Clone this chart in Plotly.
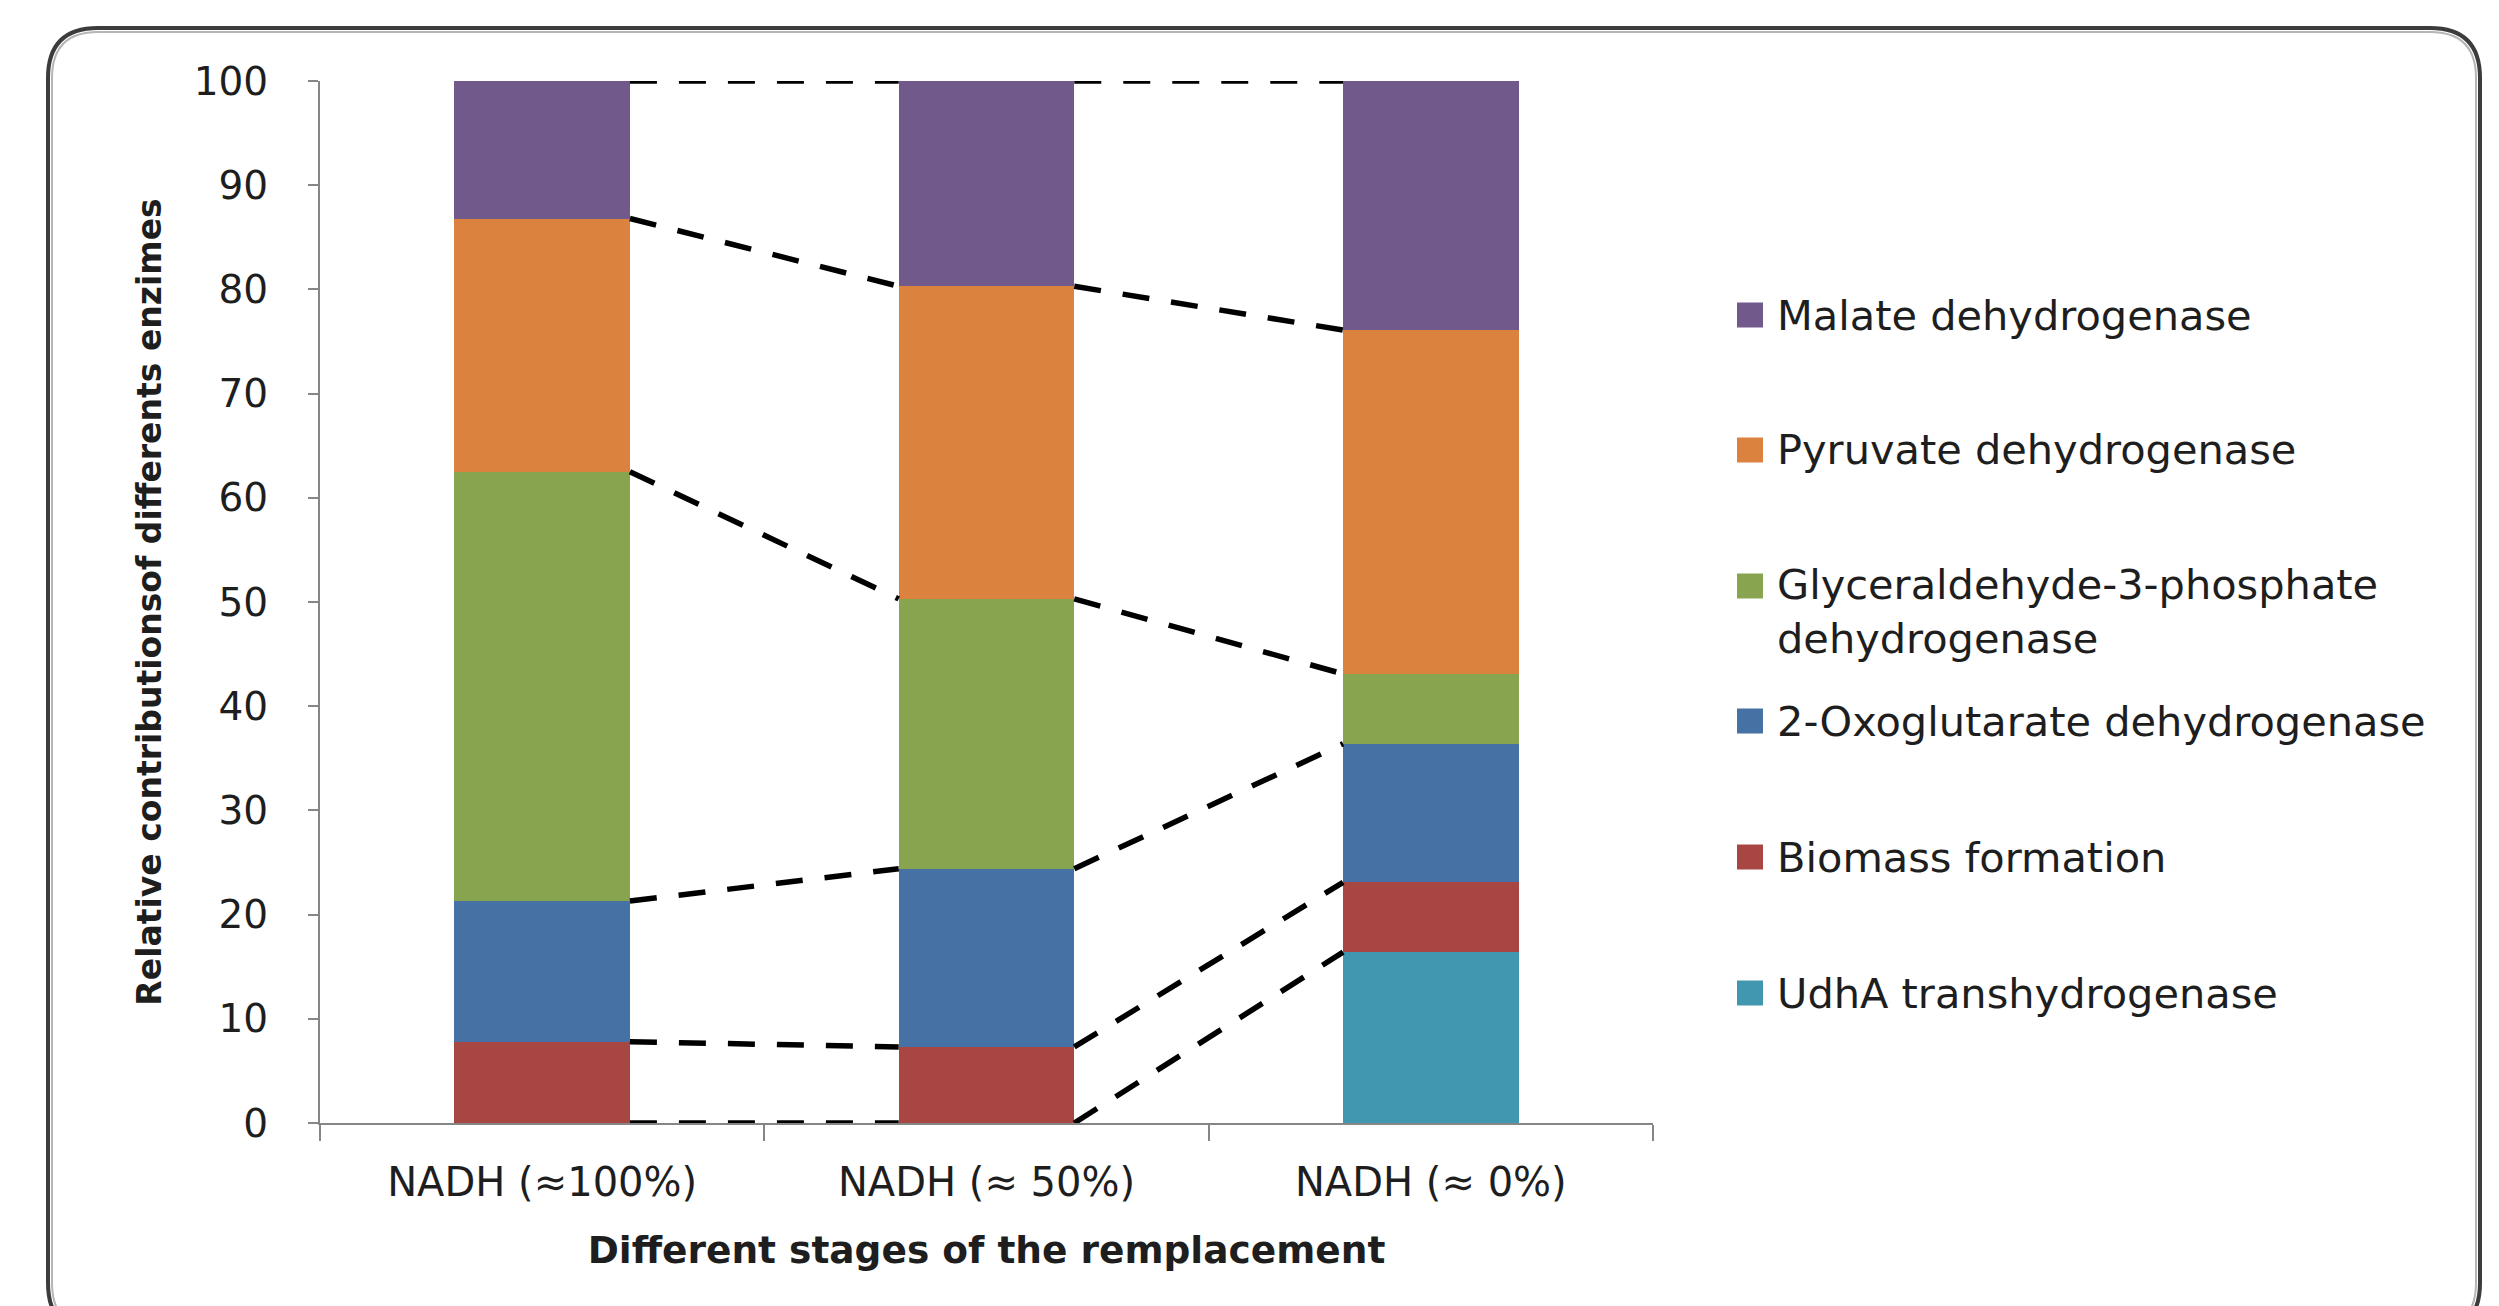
import plotly.graph_objects as go

# ---- data -------------------------------------------------------------
stages = ["NADH (≈100%)", "NADH (≈ 50%)", "NADH (≈ 0%)"]

# contribution of each NADH source (%), stacked from bottom to top
udha_transhydrogenase = [0.0, 0.0, 16.4]
biomass_formation = [7.8, 7.3, 6.7]
oxoglutarate_dh = [13.5, 17.1, 13.3]
gapdh = [41.2, 25.9, 6.7]
pyruvate_dh = [24.3, 30.0, 33.0]
malate_dh = [13.2, 19.7, 23.9]

series_names = [
    "UdhA transhydrogenase",
    "Biomass formation",
    "2-Oxoglutarate dehydrogenase",
    "Glyceraldehyde-3-phosphate<br>dehydrogenase",
    "Pyruvate dehydrogenase",
    "Malate dehydrogenase",
]
series_values = [
    udha_transhydrogenase,
    biomass_formation,
    oxoglutarate_dh,
    gapdh,
    pyruvate_dh,
    malate_dh,
]
series_colors = ["#4197AF", "#A84644", "#4571A5", "#89A44E", "#DB823E", "#72598C"]

y_ticks = [0, 10, 20, 30, 40, 50, 60, 70, 80, 90, 100]

# ---- layout geometry ----------------------------------------------------
W, H = 2499, 1306
L, R, T, B = 320, 846, 81, 183
PW, PH = W - L - R, H - T - B
BAR_WIDTH = 0.395
FONT = "DejaVu Sans"
TEXT = "#1e1e1e"
AXIS = "#868686"


def px(x):
    return (x - L) / PW


def py(y):
    return (H - B - y) / PH


xpos = list(range(len(stages)))
fig = go.Figure()

# stacked bars
for name, vals, col in zip(series_names, series_values, series_colors):
    fig.add_trace(go.Bar(
        x=xpos, y=vals, width=BAR_WIDTH, name=name.replace("<br>", " "),
        marker=dict(color=col, line=dict(width=0)), showlegend=False,
    ))

# dashed connectors between the stack boundaries of neighbouring bars
cum = [0.0] * len(stages)
xs, ys = [], []
hw = BAR_WIDTH / 2
for vals in series_values:
    cum = [c + v for c, v in zip(cum, vals)]
    for i in range(len(stages) - 1):
        xs += [i + hw, i + 1 - hw, None]
        ys += [cum[i], cum[i + 1], None]
fig.add_trace(go.Scatter(
    x=xs, y=ys, mode="lines", showlegend=False, hoverinfo="skip",
    line=dict(color="black", width=5.5, dash="27px,22px"),
))

# ---- frame and legend -----------------------------------------------------
shapes = []
x0, y0, x1, y1, r = 48, 28, 2480, 1333, 50


def frame_path(x0, y0, x1, y1, r):
    return (
        f"M{px(x0 + r)},{py(y0)} L{px(x1 - r)},{py(y0)} "
        f"Q{px(x1)},{py(y0)} {px(x1)},{py(y0 + r)} L{px(x1)},{py(y1 - r)} "
        f"Q{px(x1)},{py(y1)} {px(x1 - r)},{py(y1)} L{px(x0 + r)},{py(y1)} "
        f"Q{px(x0)},{py(y1)} {px(x0)},{py(y1 - r)} L{px(x0)},{py(y0 + r)} "
        f"Q{px(x0)},{py(y0)} {px(x0 + r)},{py(y0)} Z"
    )


shapes.append(dict(type="path", xref="paper", yref="paper",
                   path=frame_path(x0 + 4, y0 + 4, x1 - 4, y1 - 4, r - 4),
                   line=dict(color="#b5b5b5", width=2)))
shapes.append(dict(type="path", xref="paper", yref="paper",
                   path=frame_path(x0, y0, x1, y1, r),
                   line=dict(color="#3c3c3c", width=4)))

legend_rows = [  # (series index, swatch centre y, text centre y)
    (5, 315, 315),
    (4, 450, 450),
    (3, 586, 611),
    (2, 721, 721),
    (1, 857, 857),
    (0, 993, 993),
]
annotations = []
for idx, sy, ty in legend_rows:
    shapes.append(dict(type="rect", xref="paper", yref="paper",
                       x0=px(1737), x1=px(1763), y0=py(sy + 12.5), y1=py(sy - 12.5),
                       fillcolor=series_colors[idx], line=dict(width=0)))
    annotations.append(dict(
        xref="paper", yref="paper", x=px(1775), y=py(ty),
        xanchor="left", yanchor="middle", align="left", showarrow=False,
        text=series_names[idx], font=dict(family=FONT, size=41.5, color=TEXT),
    ))

fig.update_layout(
    width=W, height=H,
    margin=dict(l=L, r=R, t=T, b=B, pad=0),
    paper_bgcolor="white", plot_bgcolor="white",
    barmode="stack", bargap=0,
    showlegend=False,
    shapes=shapes, annotations=annotations,
    font=dict(family=FONT, color=TEXT),
)

fig.update_xaxes(
    range=[-0.5, len(stages) - 0.5], tickvals=xpos, ticktext=stages,
    ticks="", showgrid=False, zeroline=False,
    showline=True, linecolor=AXIS, linewidth=2,
    tickfont=dict(family=FONT, size=40, color=TEXT), ticklabelstandoff=23,
    minor=dict(tickvals=[i - 0.5 for i in range(len(stages) + 1)],
               ticks="outside", ticklen=16, tickwidth=2, tickcolor=AXIS),
    title=dict(text="<b>Different stages of the remplacement</b>",
               font=dict(family=FONT, size=37.5, color=TEXT), standoff=33),
)
fig.update_yaxes(
    range=[0, 100], tickvals=y_ticks, ticks="outside", ticklen=10,
    tickwidth=2, tickcolor=AXIS, showgrid=False, zeroline=False,
    showline=True, linecolor=AXIS, linewidth=2,
    tickfont=dict(family=FONT, size=39, color=TEXT), ticklabelstandoff=32,
    title=dict(text="<b>Relative contributionsof differents enzimes</b>",
               font=dict(family=FONT, size=33, color=TEXT), standoff=22),
)

fig.write_html("out.html")
